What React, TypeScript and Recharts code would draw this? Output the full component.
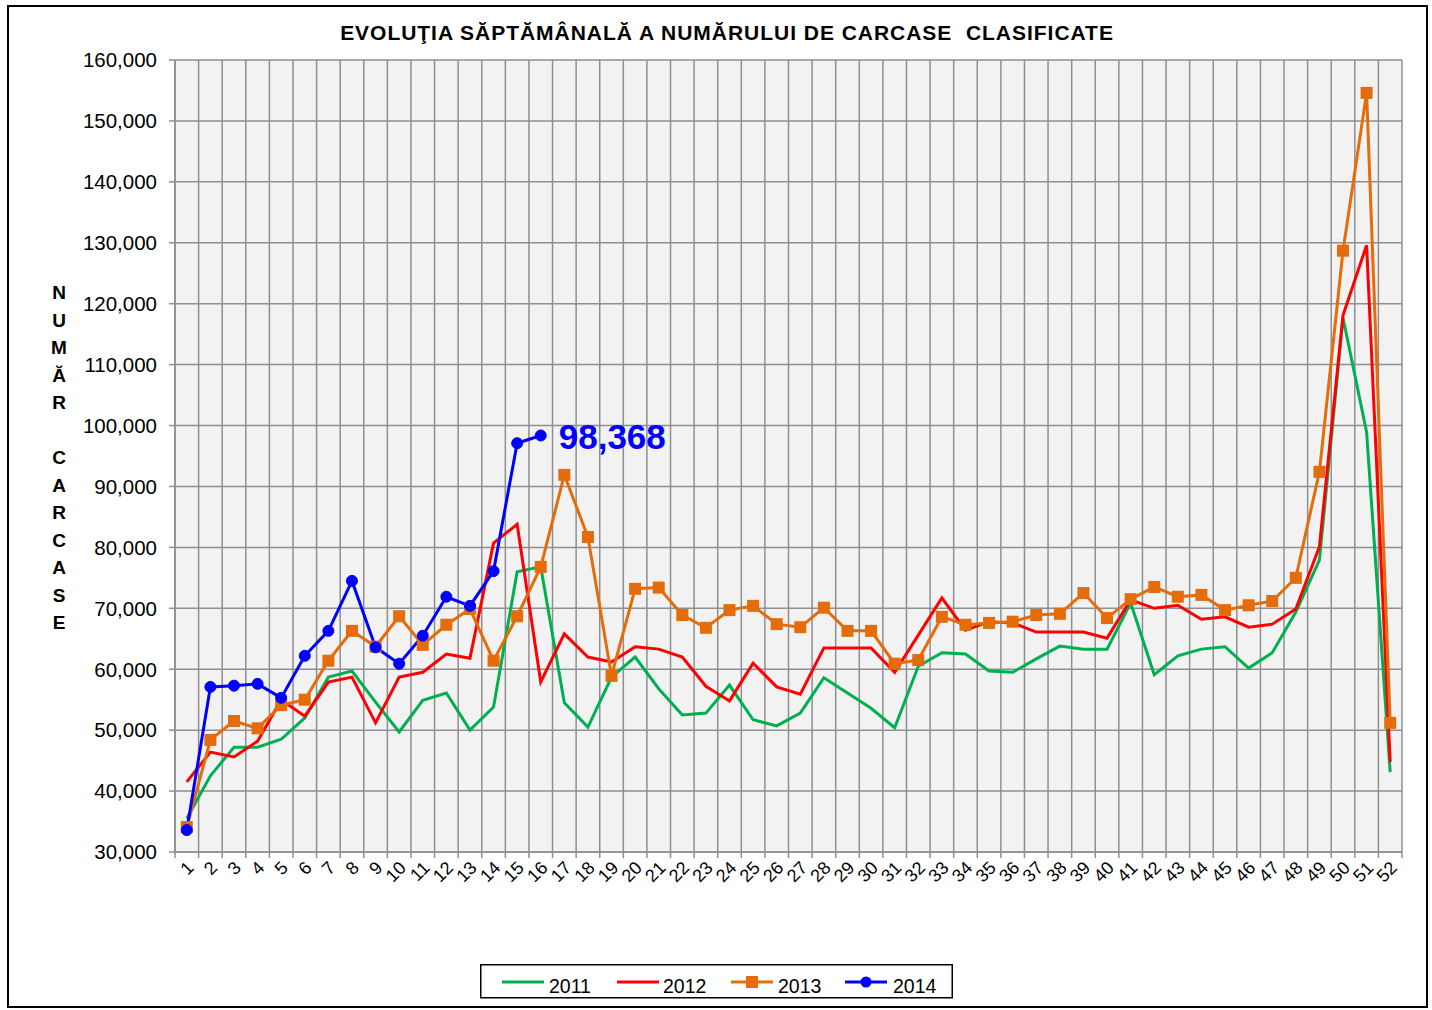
import React from "react";
import {
  LineChart,
  Line,
  XAxis,
  YAxis,
  CartesianGrid,
  Legend,
  LabelList,
} from "recharts";

const weeks = Array.from({ length: 52 }, (_, i) => String(i + 1));

const y2011 = [
  35500, 42500, 47200, 47200, 48500, 52000, 58700, 59700, 54600, 49700,
  54900, 56100, 50000, 53800, 76000, 76800, 54500, 50500, 58700, 62000,
  56800, 52500, 52800, 57400, 51700, 50700, 52800, 58600, 56100, 53600,
  50400, 60500, 62700, 62500, 59700, 59500, 61700, 63800, 63300, 63300,
  70900, 59100, 62200, 63300, 63700, 60200, 62700, 69400, 77900, 117700,
  98900, 43100,
];

const y2012 = [
  41500, 46400, 45600, 48200, 55000, 52300, 57900, 58700, 51200, 58700,
  59500, 62500, 61800, 80700, 83800, 57900, 65800, 62000, 61200, 63700,
  63300, 62000, 57200, 54800, 61000, 57100, 55900, 63500, 63500, 63500,
  59500, 65600, 71700, 66400, 67800, 67600, 66100, 66100, 66100, 65100,
  71400, 70000, 70500, 68200, 68600, 66900, 67400, 69900, 80100, 118100,
  129600, 44800,
];

const y2013 = [
  34100, 48400, 51500, 50300, 54100, 55000, 61400, 66300, 63700, 68700,
  64000, 67300, 69900, 61400, 68700, 76800, 91900, 81700, 58900, 73200,
  73400, 68900, 66800, 69700, 70400, 67400, 66900, 70100, 66300, 66300,
  60900, 61500, 68600, 67300, 67600, 67800, 68900, 69100, 72500, 68400,
  71500, 73500, 71900, 72200, 69700, 70500, 71200, 75000, 92400, 128700,
  154600, 51200,
];

// 2014 only runs to week 16
const y2014 = [
  33600, 57100, 57300, 57600, 55300, 62200, 66300, 74500, 63600, 60900,
  65500, 71900, 70400, 76100, 97100, 98368,
];

const yTicks = [
  30000, 40000, 50000, 60000, 70000, 80000, 90000, 100000, 110000, 120000,
  130000, 140000, 150000, 160000,
];

const seriesNames = ["2011", "2012", "2013", "2014"];
const seriesColors = ["#00b050", "#ff0000", "#e46c0a", "#0000ff"];

const data = weeks.map((w, i) => ({
  week: w,
  y2011: y2011[i],
  y2012: y2012[i],
  y2013: y2013[i],
  y2014: i < y2014.length ? y2014[i] : null,
}));

const FONT = '"Liberation Sans", Arial, sans-serif';
const GRID = "#8f8f8f";

function fmt(v: number) {
  return v.toLocaleString("en-US");
}

function XTick(props: any) {
  const { x, y, payload, index } = props;
  const half = payload.offset ?? 0;
  const ay = y + 17;
  const ax = x + 8;
  return (
    <g>
      <line x1={x - half} x2={x - half} y1={y} y2={y + 6} stroke={GRID} strokeWidth={1.5} />
      {index === weeks.length - 1 && (
        <line x1={x + half} x2={x + half} y1={y} y2={y + 6} stroke={GRID} strokeWidth={1.5} />
      )}
      <text
        x={ax}
        y={ay}
        transform={`rotate(-45 ${ax} ${ay})`}
        textAnchor="end"
        fontSize={18}
        fontFamily={FONT}
        fill="#000"
      >
        {payload.value}
      </text>
    </g>
  );
}

function SquareDot(props: any) {
  const { cx, cy, key } = props;
  if (cx == null || cy == null) return <g key={key} />;
  return <rect key={key} x={cx - 6} y={cy - 6} width={12} height={12} fill="#e46c0a" />;
}

function YTitle() {
  const letters = "NUMĂR CARCASE".split("");
  return (
    <text x={59} y={299} textAnchor="middle" fontSize={19} fontWeight="bold" fontFamily={FONT} fill="#000">
      {letters.map((ch, i) => (
        <tspan key={i} x={59} dy={i === 0 ? 0 : 27.5}>
          {ch === " " ? "\u00a0" : ch}
        </tspan>
      ))}
    </text>
  );
}

function LastValueLabel(props: any) {
  const { x, y, value, index } = props;
  if (index !== y2014.length - 1) return null;
  return (
    <text x={x + 18} y={y + 14} fontSize={35} fontWeight="bold" fontFamily={FONT} fill="#0000ff">
      {fmt(value)}
    </text>
  );
}

function LegendBox() {
  const items = [
    { lx: 22, tx: 69 },
    { lx: 137, tx: 183 },
    { lx: 251, tx: 298 },
    { lx: 365, tx: 413 },
  ];
  return (
    <svg width={473} height={35} style={{ display: "block" }}>
      <rect x={0.75} y={0.75} width={471.5} height={33} fill="#fff" stroke="#000" strokeWidth={1.5} />
      {items.map((it, i) => (
        <g key={seriesNames[i]}>
          <line x1={it.lx} x2={it.lx + 42} y1={18} y2={18} stroke={seriesColors[i]} strokeWidth={3} />
          {i === 2 && <rect x={it.lx + 15} y={12} width={12} height={12} fill={seriesColors[i]} />}
          {i === 3 && <circle cx={it.lx + 21} cy={18} r={5.5} fill={seriesColors[i]} />}
          <text x={it.tx} y={29} fontSize={19.5} fontFamily={FONT} fill="#000">
            {seriesNames[i]}
          </text>
        </g>
      ))}
    </svg>
  );
}

export default function App() {
  return (
    <div style={{ position: "absolute", left: 0, top: 0, width: 1432, height: 1010, background: "#fff" }}>
      <div
        style={{
          position: "absolute",
          left: 7,
          top: 5,
          width: 1421,
          height: 1003,
          border: "2px solid #000",
          boxSizing: "border-box",
        }}
      />
      <div
        style={{
          position: "absolute",
          left: 0,
          width: 1454,
          top: 20,
          textAlign: "center",
          fontFamily: FONT,
          fontWeight: "bold",
          fontSize: 21,
          letterSpacing: 0.97,
          whiteSpace: "pre",
          lineHeight: "26px",
        }}
      >
        EVOLUŢIA SĂPTĂMÂNALĂ A NUMĂRULUI DE CARCASE  CLASIFICATE
      </div>
      <div style={{ position: "absolute", left: 0, top: 0 }}>
        <LineChart
          width={1432}
          height={1010}
          data={data}
          margin={{ top: 60, right: 30, bottom: 128, left: 75 }}
        >
          <CartesianGrid
            fill="#f2f2f2"
            stroke={GRID}
            strokeWidth={1.5}
            verticalCoordinatesGenerator={({ offset }: any) =>
              Array.from({ length: weeks.length + 1 }, (_, i) => offset.left + (i * offset.width) / weeks.length)
            }
          />
          <XAxis
            dataKey="week"
            scale="band"
            height={30}
            interval={0}
            tickLine={false}
            tickSize={0}
            tickMargin={0}
            axisLine={{ stroke: GRID, strokeWidth: 1.5 }}
            tick={<XTick />}
          />
          <YAxis
            width={100}
            domain={[30000, 160000]}
            ticks={yTicks}
            interval={0}
            tickFormatter={fmt}
            tickSize={6}
            tickMargin={12}
            tickLine={{ stroke: GRID, strokeWidth: 1.5 }}
            axisLine={{ stroke: GRID, strokeWidth: 1.5 }}
            tick={{ fontSize: 20.5, fill: "#000", fontFamily: FONT }}
            label={{ content: <YTitle /> }}
          />
          <Legend
            layout="horizontal"
            verticalAlign="middle"
            align="center"
            content={<LegendBox />}
            wrapperStyle={{ position: "absolute", left: 480, top: 964, width: 473, height: 35 }}
          />
          <Line
            dataKey="y2011"
            name="2011"
            stroke={seriesColors[0]}
            strokeWidth={3}
            dot={false}
            activeDot={false}
            isAnimationActive={false}
          />
          <Line
            dataKey="y2012"
            name="2012"
            stroke={seriesColors[1]}
            strokeWidth={3}
            dot={false}
            activeDot={false}
            isAnimationActive={false}
          />
          <Line
            dataKey="y2013"
            name="2013"
            stroke={seriesColors[2]}
            strokeWidth={3}
            dot={<SquareDot />}
            activeDot={false}
            isAnimationActive={false}
          />
          <Line
            dataKey="y2014"
            name="2014"
            stroke={seriesColors[3]}
            strokeWidth={3}
            dot={{ r: 5.5, fill: seriesColors[3], stroke: seriesColors[3], strokeWidth: 1 }}
            activeDot={false}
            isAnimationActive={false}
          >
            <LabelList dataKey="y2014" content={<LastValueLabel />} />
          </Line>
        </LineChart>
      </div>
    </div>
  );
}
